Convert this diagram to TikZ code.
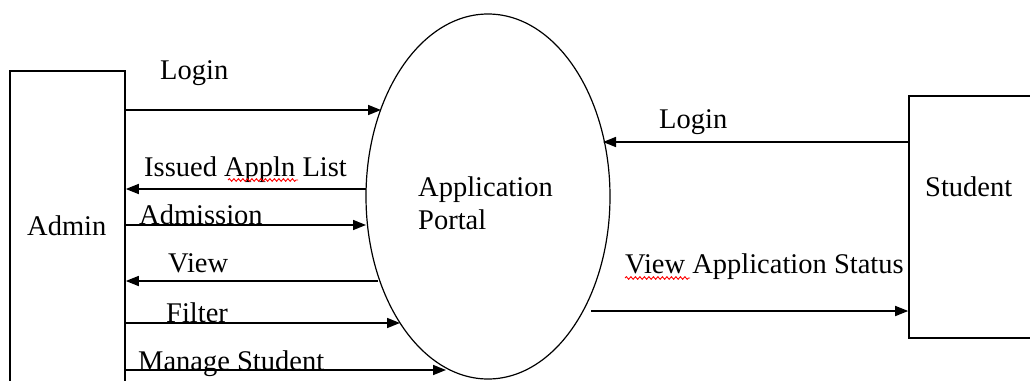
\documentclass[tikz,border=0pt]{standalone}
\usepackage{fontspec}
\setmainfont{Liberation Serif}
\usetikzlibrary{arrows.meta,decorations.pathmorphing,shapes.geometric}
\begin{document}
\begin{tikzpicture}[x=1pt,y=-1pt,
  lbl/.style={anchor=base west, inner sep=0pt, font=\fontsize{28.5}{34}\selectfont},
  flow/.style={line width=1.6pt, -{Triangle[length=13pt,width=10pt]}},
  entity/.style={draw, line width=1.6pt, inner sep=0pt},
  process/.style={draw, ellipse, line width=1.2pt, inner sep=0pt},
  squig/.style={red, line width=0.9pt, decorate, decoration={snake, amplitude=1.3pt, segment length=4.5pt}}]
\useasboundingbox (0,0) rectangle (1030,380);
\fill[white] (0,0) rectangle (1030,380);
\clip (0,0) rectangle (1030,380);
% entities and process
\node[entity, minimum width=115pt, minimum height=360pt] (admin) at (67.5,251) {};
\node[entity, minimum width=151pt, minimum height=242pt] (student) at (984.5,217) {};
\node[process, minimum width=244pt, minimum height=365pt] (portal) at (488,196.5) {};
% labels in shapes
\node[lbl] (adminlbl) at (27,235) {Admin};
\node[lbl] (studentlbl) at (925,196) {Student};
\node[lbl] (portallbl1) at (418,196) {Application};
\node[lbl] (portallbl2) at (418,229) {Portal};
% points on the ellipse
\coordinate (pLogin) at (381,110);
\coordinate (pIssued) at (366,189);
\coordinate (pAdm) at (366,225);
\coordinate (pView) at (378,281);
\coordinate (pFilter) at (400,323);
\coordinate (pManage) at (446,370);
\coordinate (pSLogin) at (603,142);
\coordinate (pStatus) at (591,311);
% flows
\draw[flow] (admin.east |- pLogin) -- (pLogin);
\draw[flow] (pIssued) -- (admin.east |- pIssued);
\draw[flow] (admin.east |- pAdm) -- (pAdm);
\draw[flow] (pView) -- (admin.east |- pView);
\draw[flow] (admin.east |- pFilter) -- (pFilter);
\draw[flow] (admin.east |- pManage) -- (pManage);
\draw[flow] (student.west |- pSLogin) -- (pSLogin);
\draw[flow] (pStatus) -- (student.west |- pStatus);
% flow labels
\node[lbl] (lLogin) at (160,79) {Login};
\node[lbl] (lIssued) at (144,176) {Issued Appln List};
\node[lbl] (lAdm) at (139,224) {Admission};
\node[lbl] (lView) at (168,272) {View};
\node[lbl] (lFilter) at (166,322) {Filter};
\node[lbl] (lManage) at (138,370) {Manage Student};
\node[lbl] (lSLogin) at (659,128) {Login};
\node[lbl] (lStatus) at (625,273) {View Application Status};
% spell-check squiggles
\draw[squig] (228,180) -- (298,180);
\draw[squig] (625,278) -- (690,278);
\end{tikzpicture}
\end{document}
